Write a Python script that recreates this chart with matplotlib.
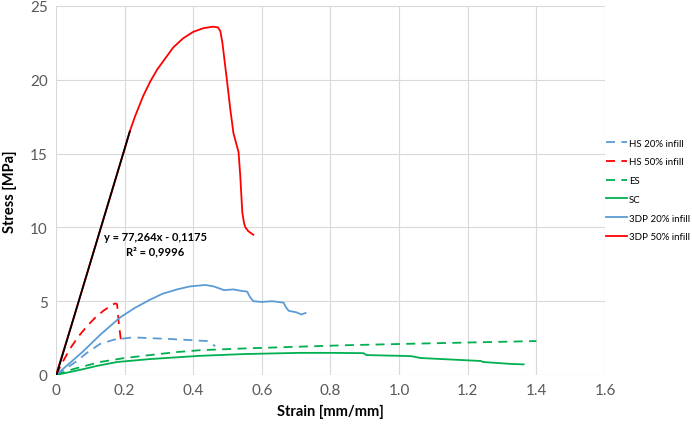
import numpy as np
import matplotlib
matplotlib.use("Agg")
import matplotlib.pyplot as plt

plt.rcParams['font.family'] = ['Lato', 'DejaVu Sans']

# --- data ---
hs20_x = [0, 0.03, 0.061, 0.09, 0.128, 0.17, 0.225, 0.27, 0.324, 0.38, 0.44, 0.464]
hs20_y = [0, 0.45, 0.95, 1.5, 2.1, 2.4, 2.55, 2.5, 2.45, 2.38, 2.3, 1.95]

hs50_x = [0, 0.02, 0.04, 0.065, 0.09, 0.115, 0.138, 0.16, 0.172, 0.178, 0.183, 0.19]
hs50_y = [0, 0.9, 1.75, 2.6, 3.3, 3.9, 4.35, 4.7, 4.85, 4.8, 3.5, 2.2]

es_x = [0, 0.05, 0.128, 0.2, 0.274, 0.35, 0.42, 0.55, 0.71, 0.85, 1.0, 1.2, 1.4]
es_y = [0, 0.4, 0.88, 1.15, 1.35, 1.55, 1.68, 1.8, 1.92, 2.02, 2.1, 2.2, 2.3]

sc_x = [0, 0.04, 0.08, 0.12, 0.178, 0.274, 0.42, 0.55, 0.71, 0.8, 0.896, 0.905,
        1.0, 1.034, 1.063, 1.15, 1.238, 1.245, 1.326, 1.363]
sc_y = [0, 0.2, 0.4, 0.62, 0.88, 1.08, 1.3, 1.42, 1.5, 1.5, 1.48, 1.35,
        1.3, 1.28, 1.15, 1.05, 0.95, 0.88, 0.75, 0.72]

p20_x = [0, 0.03, 0.079, 0.13, 0.187, 0.23, 0.274, 0.31, 0.353, 0.39, 0.435, 0.46,
         0.49, 0.517, 0.54, 0.557, 0.565, 0.575, 0.6, 0.63, 0.663, 0.67, 0.678,
         0.70, 0.715, 0.727]
p20_y = [0, 0.6, 1.6, 2.75, 3.9, 4.55, 5.1, 5.5, 5.8, 6.0, 6.1, 6.0,
         5.75, 5.8, 5.7, 5.65, 5.3, 5.0, 4.95, 5.0, 4.9, 4.6, 4.35,
         4.25, 4.1, 4.2]

p50_x = [0, 0.05, 0.1, 0.15, 0.2, 0.215, 0.23, 0.254, 0.275, 0.295, 0.32, 0.342,
         0.37, 0.40, 0.43, 0.458, 0.472, 0.479, 0.485, 0.499, 0.508, 0.517, 0.532,
         0.537, 0.543, 0.548, 0.552, 0.56, 0.575]
p50_y = [0, 3.75, 7.6, 11.45, 15.3, 16.5, 17.5, 18.9, 19.9, 20.7, 21.5, 22.2,
         22.8, 23.25, 23.5, 23.6, 23.55, 23.3, 22.5, 19.8, 18.0, 16.4, 15.1,
         13.5, 11.0, 10.3, 10.0, 9.75, 9.5]

fit_slope = 77.264
fit_icpt = -0.1175
fit_range = [0.0015, 0.215]

xticks = [0, 0.2, 0.4, 0.6, 0.8, 1.0, 1.2, 1.4, 1.6]
xticklabels = ["0", "0.2", "0.4", "0.6", "0.8", "1.0", "1.2", "1.4", "1.6"]
yticks = [0, 5, 10, 15, 20, 25]

blue = "#5B9BD5"
red = "#FF0000"
green = "#00B050"

fig = plt.figure(figsize=(6.92, 4.27), dpi=100)
ax = fig.add_axes([56 / 692, 51 / 427, 549 / 692, 369 / 427])

dash = (0, (5, 3.5))
ax.plot(hs20_x, hs20_y, color=blue, lw=1.3, ls=dash, label="HS 20% infill")
ax.plot(hs50_x, hs50_y, color=red, lw=1.3, ls=dash, label="HS 50% infill")
ax.plot(es_x, es_y, color=green, lw=1.3, ls=dash, label="ES")
ax.plot(sc_x, sc_y, color=green, lw=1.3, label="SC")
ax.plot(p20_x, p20_y, color=blue, lw=1.3, label="3DP 20% infill")
ax.plot(p50_x, p50_y, color=red, lw=1.3, label="3DP 50% infill")

fx = np.array(fit_range)
ax.plot(fx, fit_slope * fx + fit_icpt, color="black", lw=1.3)

ax.text(0.29, 8.9, "y = 77,264x - 0,1175\nR² = 0,9996", ha="center", va="center",
        fontsize=8, fontweight="bold", linespacing=1.45)

ax.set_xlim(0, 1.6)
ax.set_ylim(0, 25)
ax.set_xticks(xticks)
ax.set_xticklabels(xticklabels)
ax.set_yticks(yticks)
ax.tick_params(length=0, labelsize=11, labelcolor="#595959", pad=6)
ax.grid(True, color="#D9D9D9", lw=0.8)
ax.set_axisbelow(True)
for s in ax.spines.values():
    s.set_visible(False)

ax.set_xlabel("Strain [mm/mm]", fontsize=10.5, fontweight="bold", labelpad=5)
ax.set_ylabel("Stress [MPa]", fontsize=10.5, fontweight="bold", labelpad=9)

fig.legend(loc="center left", bbox_to_anchor=(597 / 692, 236 / 427), frameon=False,
           fontsize=7, handlelength=2.2, handletextpad=0.2, labelspacing=1.0)

fig.savefig("out.png", dpi=100)
